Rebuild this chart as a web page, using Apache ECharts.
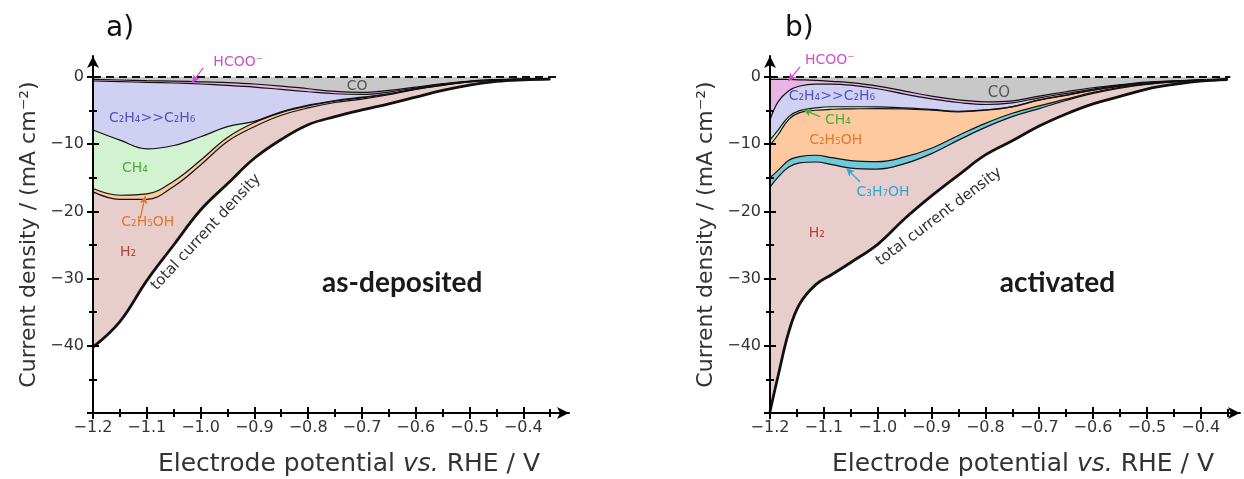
<!DOCTYPE html>
<html>
<head>
<meta charset="utf-8">
<title>Partial current densities</title>
<script src="https://cdn.jsdelivr.net/npm/echarts@6/dist/echarts.min.js"></script>
<style>
  html, body { margin: 0; padding: 0; background: #fff; }
  #chart { width: 1244px; height: 479px; }
</style>
</head>
<body>
<div id="chart"></div>
<script>
// a) as-deposited : partial current densities (mA cm-2) vs potential (V vs RHE)
const potA = [-1.2, -1.15, -1.1, -1.05, -1.0, -0.95, -0.9, -0.85, -0.8, -0.75, -0.7, -0.65, -0.6, -0.55, -0.5, -0.45, -0.4, -0.35];
const coA = [-0.35, -0.45, -0.55, -0.62, -0.72, -0.85, -1.05, -1.35, -1.75, -2.15, -2.3, -2.0, -1.5, -1.0, -0.6, -0.4, -0.32, -0.28];
const hcooA = [-0.25, -0.25, -0.25, -0.28, -0.33, -0.4, -0.45, -0.5, -0.45, -0.35, -0.3, -0.25, -0.15, -0.1, -0.06, -0.03, -0.02, -0.01];
const c2h4A = [-7.3, -8.7, -9.9, -9.3, -7.85, -6.15, -5.1, -3.35, -2.0, -1.0, -0.4, -0.25, -0.1, -0.05, -0.04, -0.02, -0.01, -0.01];
const ch4A = [-8.7, -8.2, -6.7, -5.3, -3.5, -1.6, -0.2, -0.1, -0.1, -0.1, -0.1, -0.05, -0.05, -0.05, -0.02, -0.01, -0.01, 0];
const c2h5ohA = [-0.5, -0.6, -0.8, -0.8, -0.7, -0.6, -0.6, -0.4, -0.3, -0.2, -0.2, -0.1, -0.05, -0.05, -0.03, -0.01, -0.01, -0.01];
const h2A = [-23.1, -18.2, -12.1, -8.7, -6.7, -6.3, -4.7, -3.6, -2.5, -2.1, -1.6, -1.35, -1.15, -0.75, -0.45, -0.18, -0.05, -0.01];

// b) activated
const potB = [-1.2, -1.185, -1.165, -1.145, -1.115, -1.085, -1.05, -1.0, -0.95, -0.9, -0.85, -0.8, -0.75, -0.7, -0.65, -0.6, -0.55, -0.5, -0.45, -0.4, -0.35];
const coB = [-0.35, -0.35, -0.38, -0.42, -0.5, -0.65, -0.85, -1.35, -2.1, -2.85, -3.4, -3.7, -3.55, -2.85, -2.2, -1.6, -1.15, -0.78, -0.58, -0.44, -0.34];
const hcooB = [-6.05, -3.35, -1.67, -0.93, -0.55, -0.4, -0.37, -0.4, -0.45, -0.4, -0.4, -0.4, -0.3, -0.25, -0.25, -0.2, -0.1, -0.07, -0.04, -0.02, -0.01];
const c2h4B = [-3.0, -4.2, -3.85, -3.65, -3.55, -3.38, -3.21, -2.7, -2.05, -1.58, -1.3, -0.8, -0.55, -0.3, -0.25, -0.15, -0.1, -0.07, -0.04, -0.02, -0.01];
const ch4B = [-0.75, -0.7, -0.4, -0.3, -0.35, -0.37, -0.32, -0.25, -0.15, -0.1, -0.08, -0.05, -0.05, -0.05, -0.03, -0.03, -0.02, -0.01, -0.01, 0, 0];
const c2h5ohB = [-4.85, -5.3, -6.1, -6.55, -6.7, -7.2, -7.7, -7.9, -7.15, -5.67, -3.52, -1.95, -0.95, -0.85, -0.57, -0.32, -0.18, -0.12, -0.05, -0.02, -0.01];
const c3h7ohB = [-1.4, -1.0, -1.0, -0.93, -1.0, -1.05, -1.1, -1.1, -1.0, -0.8, -0.7, -0.6, -0.5, -0.4, -0.2, -0.15, -0.1, -0.05, -0.03, -0.02, -0.01];
const h2B = [-33.4, -29.6, -24.5, -21.0, -18.25, -16.35, -14.05, -11.2, -8.2, -6.3, -5.2, -4.1, -3.6, -2.6, -2.0, -1.55, -1.25, -0.7, -0.35, -0.08, 0];

// axis ticks / labels
const xMajor = [-1.2, -1.1, -1.0, -0.9, -0.8, -0.7, -0.6, -0.5, -0.4];
const xMinor = [-1.15, -1.05, -0.95, -0.85, -0.75, -0.65, -0.55, -0.45, -0.35];
const yMajor = [-50, -40, -30, -20, -10, 0];
const yMinor = [-45, -35, -25, -15, -5];
const yLabels = [-40, -30, -20, -10, 0];

const FONT = 'DejaVu Sans';
const INK = '#333';

const layersA = [
  { v: coA, fill: '#c8c8c8' },
  { v: hcooA, fill: '#e8b5e6' },
  { v: c2h4A, fill: '#cfd0f2' },
  { v: ch4A, fill: '#d2f2d0' },
  { v: c2h5ohA, fill: '#ffc9a0' },
  { v: h2A, fill: '#e8cdcd' }
];
const layersB = [
  { v: coB, fill: '#c8c8c8' },
  { v: hcooB, fill: '#e8b5e6' },
  { v: c2h4B, fill: '#cfd0f2' },
  { v: ch4B, fill: '#d2f2d0' },
  { v: c2h5ohB, fill: '#ffc9a0' },
  { v: c3h7ohB, fill: '#6fcadb' },
  { v: h2B, fill: '#e8cdcd' }
];

// cumulative boundaries, then fill each one to zero (deepest first) and stroke them on top
function stackSeries(p, pot, layers) {
  let run = pot.map(() => 0);
  const bounds = layers.map(l => { run = run.map((s, i) => s + l.v[i]); return run.slice(); });
  const out = [];
  for (let k = bounds.length - 1; k >= 0; k--) {
    out.push({
      type: 'line', xAxisIndex: p * 4, yAxisIndex: p * 4, silent: true,
      data: pot.map((x, i) => [x, bounds[k][i]]),
      smooth: 0.4, symbol: 'none', z: 2,
      lineStyle: { width: 0, opacity: 0 },
      areaStyle: { color: layers[k].fill, opacity: 1 }
    });
  }
  bounds.forEach((b, k) => {
    const total = k === bounds.length - 1;
    out.push({
      type: 'line', xAxisIndex: p * 4, yAxisIndex: p * 4, silent: true,
      data: pot.map((x, i) => [x, b[i]]),
      smooth: 0.4, symbol: 'none', z: total ? 4 : 3,
      lineStyle: { color: '#111', width: total ? 2.8 : 1.2 }
    });
  });
  return out;
}

function txt(x, y, text, color, size, extra) {
  return { value: [x, y], label: Object.assign({ formatter: text, color: color, fontSize: size }, extra || {}) };
}
function arrow(x1, y1, x2, y2, color) {
  return [{ coord: [x1, y1], lineStyle: { color: color, width: 1.3, type: 'solid' } }, { coord: [x2, y2] }];
}
function zeroLine(xEnd) {
  return [{ coord: [-1.2, 0], symbol: 'none', lineStyle: { color: '#111', width: 1.8, type: [8, 5] } },
          { coord: [xEnd, 0], symbol: 'none' }];
}

function notes(p, items, arrows, xEnd) {
  return {
    type: 'scatter', xAxisIndex: p * 4, yAxisIndex: p * 4, z: 6, silent: true,
    symbolSize: 1, itemStyle: { color: 'rgba(0,0,0,0)', opacity: 1 },
    label: { show: true, position: 'inside', fontFamily: FONT },
    data: items,
    markLine: {
      silent: true, symbol: ['none', 'arrow'], symbolSize: [6, 8],
      label: { show: false }, animation: false,
      data: [zeroLine(xEnd)].concat(arrows)
    }
  };
}

const big = { fontFamily: 'Lato', fontWeight: 'bold', fontSize: 28 };

const notesA = notes(0, [
  txt(-0.93, 2.2, 'HCOO⁻', '#cf4fcb', 14),
  txt(-0.709, -1.35, 'CO', '#555', 14),
  txt(-1.09, -6.1, 'C₂H₄>>C₂H₆', '#5552c4', 14),
  txt(-1.122, -13.6, 'CH₄', '#49ae3f', 14),
  txt(-1.098, -21.6, 'C₂H₅OH', '#e0782e', 14),
  txt(-1.135, -26.1, 'H₂', '#b5402f', 14),
  txt(-0.99, -23.1, 'total current density', INK, 15, { rotate: 47 }),
  txt(-0.625, -30.6, 'as-deposited', '#1a1a1a', 28, big)
], [
  arrow(-0.995, 1.35, -1.016, -0.85, '#cf4fcb'),
  arrow(-1.112, -21.0, -1.103, -17.7, '#e0782e')
], -0.335);

const notesB = notes(1, [
  txt(-1.089, 2.5, 'HCOO⁻', '#cf4fcb', 14),
  txt(-0.775, -2.35, 'CO', '#555', 15),
  txt(-1.085, -2.9, 'C₂H₄>>C₂H₆', '#5552c4', 14),
  txt(-1.074, -6.4, 'CH₄', '#49ae3f', 14),
  txt(-1.078, -9.4, 'C₂H₅OH', '#e0782e', 14),
  txt(-0.99, -17.1, 'C₃H₇OH', '#2ea6d6', 14),
  txt(-1.113, -23.3, 'H₂', '#b5402f', 14),
  txt(-0.886, -20.8, 'total current density', INK, 15, { rotate: 37 }),
  txt(-0.666, -30.6, 'activated', '#1a1a1a', 28, big)
], [
  arrow(-1.144, 1.5, -1.166, -0.6, '#cf4fcb'),
  arrow(-1.107, -5.9, -1.138, -4.9, '#49ae3f'),
  arrow(-1.033, -15.6, -1.058, -13.6, '#2ea6d6')
], -0.345);

const axisPen = { color: '#000', width: 2 };

// four axes per dimension and panel: main (line, labels, outer majors) + inner majors + outer/inner minors
function xAxes(g, max) {
  const base = { type: 'value', gridIndex: g, min: -1.2, max: max, position: 'bottom', z: 5,
    splitLine: { show: false }, axisLabel: { show: false }, axisLine: { show: false, onZero: false } };
  const tick = (vals, inside, len) => ({ show: true, customValues: vals, inside: inside, length: len, lineStyle: axisPen });
  return [
    Object.assign({}, base, {
      axisLine: { show: true, onZero: false, symbol: ['none', 'arrow'], symbolSize: [9, 12], lineStyle: axisPen },
      axisTick: tick(xMajor, false, 6),
      axisLabel: { show: true, customValues: xMajor, margin: 7, fontSize: 16, fontFamily: FONT, color: INK,
        formatter: v => '−' + Math.abs(v).toFixed(1) },
      name: 'Electrode potential {i|vs.} RHE / V', nameLocation: 'middle', nameGap: 39,
      nameTextStyle: { fontSize: 25, fontFamily: FONT, color: INK, padding: [0, 0, 0, 36],
        rich: { i: { fontSize: 25, fontFamily: FONT, fontStyle: 'italic', color: INK } } }
    }),
    Object.assign({}, base, { axisTick: tick(xMajor, true, 6) }),
    Object.assign({}, base, { axisTick: tick(xMinor, false, 4) }),
    Object.assign({}, base, { axisTick: tick(xMinor, true, 4) })
  ];
}
function yAxes(g) {
  const base = { type: 'value', gridIndex: g, min: -50, max: 3.12, position: 'left', z: 5,
    splitLine: { show: false }, axisLabel: { show: false }, axisLine: { show: false, onZero: false } };
  const tick = (vals, inside, len) => ({ show: true, customValues: vals, inside: inside, length: len, lineStyle: axisPen });
  return [
    Object.assign({}, base, {
      axisLine: { show: true, onZero: false, symbol: ['none', 'arrow'], symbolSize: [9, 12], lineStyle: axisPen },
      axisTick: tick(yMajor, false, 6),
      axisLabel: { show: true, customValues: yLabels, margin: 9, fontSize: 16, fontFamily: FONT, color: INK,
        formatter: v => (v === 0 ? '0' : '−' + Math.abs(v)) },
      name: 'Current density / (mA cm⁻²)', nameLocation: 'middle', nameGap: 53,
      nameTextStyle: { fontSize: 22, fontFamily: FONT, color: INK }
    }),
    Object.assign({}, base, { axisTick: tick(yMajor, true, 6) }),
    Object.assign({}, base, { axisTick: tick(yMinor, false, 4) }),
    Object.assign({}, base, { axisTick: tick(yMinor, true, 4) })
  ];
}

const chart = echarts.init(document.getElementById('chart'));
chart.setOption({
  animation: false,
  backgroundColor: '#fff',
  title: [
    { text: 'a)', left: 106, top: 15, padding: 0, textStyle: { fontSize: 28, fontWeight: 'normal', fontFamily: FONT, color: '#111' } },
    { text: 'b)', left: 785, top: 15, padding: 0, textStyle: { fontSize: 28, fontWeight: 'normal', fontFamily: FONT, color: '#111' } }
  ],
  grid: [
    { left: 93, top: 56, width: 476, height: 357, outerBoundsMode: 'none' },
    { left: 770, top: 56, width: 470, height: 357, outerBoundsMode: 'none' }
  ],
  xAxis: xAxes(0, -0.315).concat(xAxes(1, -0.327)),
  yAxis: yAxes(0).concat(yAxes(1)),
  series: stackSeries(0, potA, layersA).concat(stackSeries(1, potB, layersB), [notesA, notesB])
});
</script>
</body>
</html>
